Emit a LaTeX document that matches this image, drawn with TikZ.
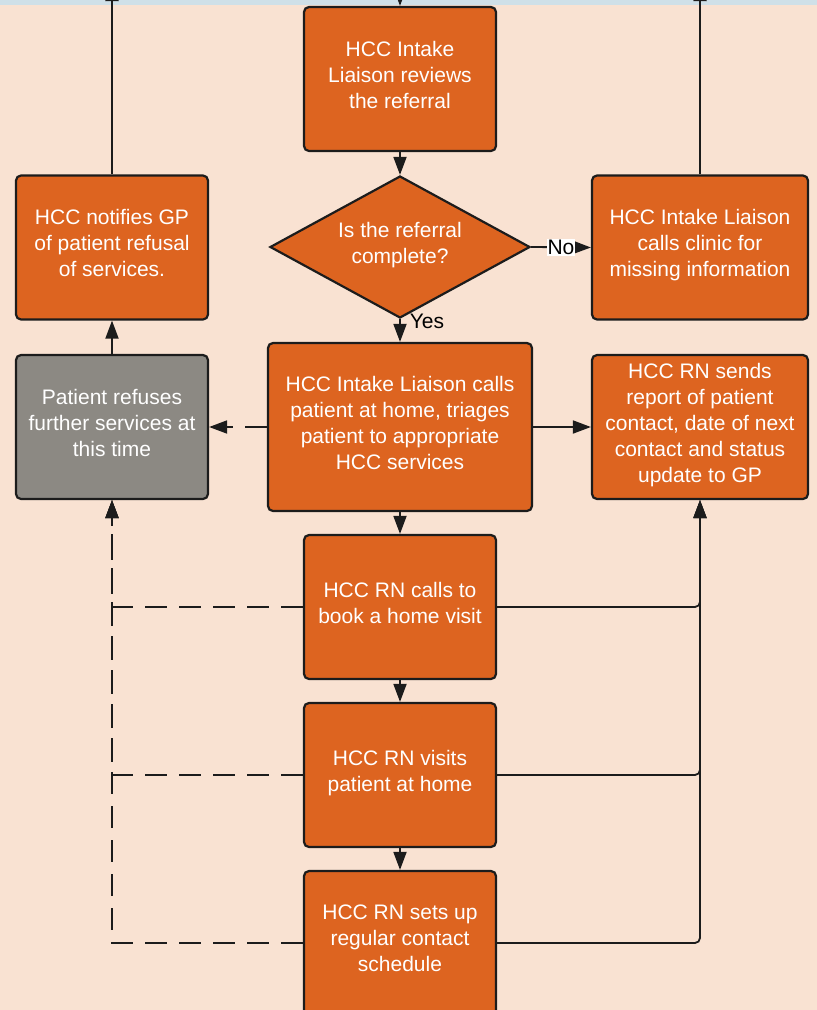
\documentclass[tikz,border=0pt]{standalone}
\usepackage{fontspec}
\setmainfont{Liberation Sans}
\usepackage{xcolor}
\usepackage{tikz}
\usetikzlibrary{shapes.geometric, arrows.meta, positioning}
\definecolor{hccorange}{HTML}{DD6420}
\definecolor{hccgray}{HTML}{8C8983}
\definecolor{hccpeach}{HTML}{F9E2D2}
\definecolor{hccblue}{HTML}{CFE0E8}
\definecolor{hccline}{HTML}{1C1C1C}
\tikzstyle{process} = [rectangle, rounded corners=5pt, minimum width=192pt, minimum height=144pt, align=center, text depth=9pt, draw=hccline, line width=2.2pt, fill=hccorange, text=white, font=\fontsize{21}{26}\selectfont]
\tikzstyle{refused} = [process, fill=hccgray]
\tikzstyle{decision} = [diamond, shape aspect=1.83, minimum width=260pt, minimum height=142pt, inner sep=0pt, align=center, text depth=9pt, draw=hccline, line width=2.2pt, fill=hccorange, text=white, font=\fontsize{21}{26}\selectfont]
\tikzstyle{arrow} = [line width=1.8pt, draw=hccline, -{Triangle[length=18pt,width=13pt]}]
\tikzstyle{dasharrow} = [arrow, dash pattern=on 22pt off 12pt]

\begin{document}
\begin{tikzpicture}[x=1pt, y=-1pt]

		% page and clipping
		\useasboundingbox (0,0) rectangle (817,1010);
		\clip (0,0) rectangle (817,1010);
		\fill[hccpeach] (0,0) rectangle (817,1010);
		\fill[hccblue] (0,0) rectangle (817,5);

		% free ends above the page
		\coordinate (topin) at (400,-25);
		\coordinate (leftout) at (112,-17);
		\coordinate (rightout) at (700,-17);

		\node (review) [process] at (400,79) {HCC Intake\\Liaison reviews\\the referral};
		\node (check) [decision] at (400,247) {Is the referral\\complete?};
		\node (notify) [process] at (112,247.5) {HCC notifies GP\\of patient refusal\\of services.};
		\node (clinic) [process, minimum width=216pt] at (700,247.5) {HCC Intake Liaison\\calls clinic for\\missing information};
		\node (refuse) [refused] at (112,427) {Patient refuses\\further services at\\this time};
		\node (triage) [process, minimum width=264pt, minimum height=168pt] at (400,427) {HCC Intake Liaison calls\\patient at home, triages\\patient to appropriate\\HCC services};
		\node (report) [process, minimum width=216pt] at (700,427) {HCC RN sends\\report of patient\\contact, date of next\\contact and status\\update to GP};
		\node (book) [process] at (400,607) {HCC RN calls to\\book a home visit};
		\node (visit) [process] at (400,775) {HCC RN visits\\patient at home};
		\node (sched) [process] at (400,943) {HCC RN sets up\\regular contact\\schedule};

		% main flow
		\draw [arrow] (topin) -- (review);
		\draw [arrow] (review) -- (check);
		\draw [arrow] (check.east) -- node[fill=white, inner sep=1pt, font=\fontsize{21}{22}\selectfont] {No} (clinic.west);
		\draw [arrow] (check.south) -- node[pos=0.1, anchor=west, xshift=9pt, inner sep=0pt, font=\fontsize{21}{22}\selectfont] {Yes} (triage.north);
		\draw [arrow] (triage) -- (report);
		\draw [arrow] (triage) -- (book);
		\draw [arrow] (book) -- (visit);
		\draw [arrow] (visit) -- (sched);
		\draw [arrow] (notify.north) -- (leftout);
		\draw [arrow] (clinic.north) -- (rightout);
		\draw [arrow] (refuse) -- (notify);

		% status updates to GP
		\draw [arrow, rounded corners=5pt] (book.east) -| (report.south);
		\draw [arrow, rounded corners=5pt] (visit.east) -| (report.south);
		\draw [arrow, rounded corners=5pt] (sched.east) -| (report.south);

		% refusal at any step
		\draw [dasharrow] (triage.west) -- (refuse.east);
		\draw [dasharrow] (book.west) -| (refuse.south);
		\draw [dasharrow] (visit.west) -| (refuse.south);
		\draw [dasharrow] (sched.west) -| (refuse.south);

\end{tikzpicture}
\end{document}
